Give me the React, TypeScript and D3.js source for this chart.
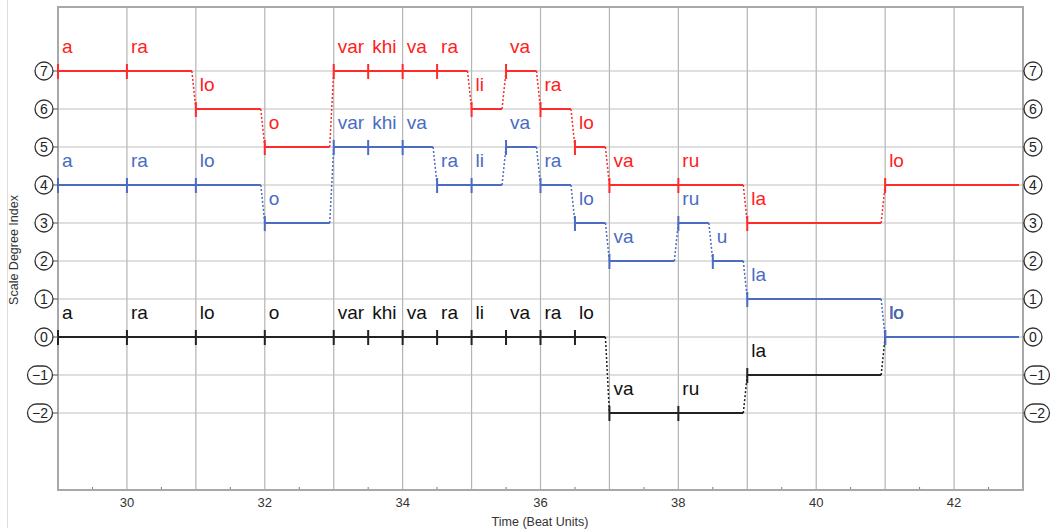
import React from "react";
import * as d3 from "d3";

const redStarts = [29, 30, 31, 32, 33, 33.5, 34, 34.5, 35, 35.5, 36, 36.5, 37, 38, 39, 41];
const redSyllables = ["a", "ra", "lo", "o", "var", "khi", "va", "ra", "li", "va", "ra", "lo", "va", "ru", "la", "lo"];
const redValues = [7, 7, 6, 5, 7, 7, 7, 7, 6, 7, 6, 5, 4, 4, 3, 4];

const blueStarts = [29, 30, 31, 32, 33, 33.5, 34, 34.5, 35, 35.5, 36, 36.5, 37, 38, 38.5, 39, 41];
const blueSyllables = ["a", "ra", "lo", "o", "var", "khi", "va", "ra", "li", "va", "ra", "lo", "va", "ru", "u", "la", "lo"];
const blueValues = [4, 4, 4, 3, 5, 5, 5, 4, 4, 5, 4, 3, 2, 3, 2, 1, 0];

const blackStarts = [29, 30, 31, 32, 33, 33.5, 34, 34.5, 35, 35.5, 36, 36.5, 37, 38, 39, 41];
const blackSyllables = ["a", "ra", "lo", "o", "var", "khi", "va", "ra", "li", "va", "ra", "lo", "va", "ru", "la", "lo"];
const blackValues = [0, 0, 0, 0, 0, 0, 0, 0, 0, 0, 0, 0, -2, -2, -1, 0];

const endTime = 43;
const yTickValues = [7, 6, 5, 4, 3, 2, 1, 0, -1, -2];
const xTickLabels = [30, 32, 34, 36, 38, 40, 42];
const xGrid = d3.range(30, 43, 1);
const xMinor = d3.range(29.5, 43, 1);

const W = 1051;
const H = 531;
const L = 58, R = 1023, T = 7, B = 490;

const x = d3.scaleLinear().domain([29, 43]).range([L, R]);
const y = d3.scaleLinear().domain([-4.026, 8.684]).range([B, T]);

const FONT = "'Liberation Sans', Arial, Helvetica, sans-serif";

type Series = { starts: number[]; syl: string[]; vals: number[]; color: string; textColor: string };

const series: Series[] = [
  { starts: blackStarts, syl: blackSyllables, vals: blackValues, color: "#222222", textColor: "#111111" },
  { starts: blueStarts, syl: blueSyllables, vals: blueValues, color: "#4a6cc2", textColor: "#4a6cc2" },
  { starts: redStarts, syl: redSyllables, vals: redValues, color: "#ff2b2b", textColor: "#ff2020" },
];

function SeriesMarks({ s }: { s: Series }) {
  const gap = 4;
  const items: React.ReactNode[] = [];
  s.starts.forEach((st, i) => {
    const en = i + 1 < s.starts.length ? s.starts[i + 1] : endTime;
    const nextVal = i + 1 < s.vals.length ? s.vals[i + 1] : null;
    const same = nextVal !== null && nextVal === s.vals[i];
    const x0 = x(st);
    const x1 = same ? x(en) : x(en) - gap;
    const yy = y(s.vals[i]);
    items.push(
      <line key={"h" + i} x1={x0} x2={x1} y1={yy} y2={yy} stroke={s.color} strokeWidth={2} />
    );
    if (nextVal !== null && !same) {
      items.push(
        <line key={"d" + i} x1={x1} y1={yy} x2={x(en)} y2={y(nextVal)} stroke={s.color} strokeWidth={1.5} strokeDasharray="2,2" />
      );
    }
    items.push(
      <line key={"t" + i} x1={x0} x2={x0} y1={yy - 7} y2={yy + 8} stroke={s.color} strokeWidth={2} />
    );
    items.push(
      <text key={"l" + i} x={x0 + 4} y={yy - 18} fill={s.textColor} fontSize={19} fontFamily={FONT}>
        {s.syl[i]}
      </text>
    );
  });
  return <g>{items}</g>;
}

function CircleLabel({ cx, cy, v }: { cx: number; cy: number; v: number }) {
  const neg = v < 0;
  const w = neg ? 25 : 18;
  const label = neg ? "\u2212" + Math.abs(v) : String(v);
  return (
    <g>
      <rect x={cx - w / 2} y={cy - 9} width={w} height={18} rx={9} ry={9} fill="white" stroke="#333" strokeWidth={1.3} />
      <text x={cx} y={cy + 5} textAnchor="middle" fontSize={14} fontFamily={FONT} fill="#222">
        {label}
      </text>
    </g>
  );
}

export default function App() {
  return (
    <svg width={W} height={H} style={{ position: "absolute", left: 0, top: 0, background: "white" }}>
      <rect x={0} y={0} width={W} height={H} fill="white" />
      <line x1={7.5} x2={7.5} y1={0} y2={528} stroke="#dddddd" strokeWidth={1} />
      {xGrid.map((g) => (
        <line key={"gx" + g} x1={x(g)} x2={x(g)} y1={T} y2={B} stroke="#b4b4b4" strokeWidth={1.2} />
      ))}
      {yTickValues.map((g) => (
        <line key={"gy" + g} x1={L} x2={R} y1={y(g)} y2={y(g)} stroke="#c0c0c0" strokeWidth={1.2} />
      ))}
      {xMinor.map((g) => (
        <line key={"mx" + g} x1={x(g)} x2={x(g)} y1={B} y2={B - 3} stroke="#777" strokeWidth={1} />
      ))}
      <rect x={L} y={T} width={R - L} height={B - T} fill="none" stroke="#a8a8a8" strokeWidth={2} />
      {series.map((s, i) => (
        <SeriesMarks key={i} s={s} />
      ))}
      {xTickLabels.map((t) => (
        <text key={"xl" + t} x={x(t)} y={507} textAnchor="middle" fontSize={13} fontFamily={FONT} fill="#333">
          {t}
        </text>
      ))}
      {yTickValues.map((v) => {
        const neg = v < 0;
        const lcx = neg ? 40 : 44;
        const rcx = neg ? 1037 : 1033;
        return (
          <g key={"yl" + v}>
            <line x1={lcx + (neg ? 12.5 : 9)} x2={L} y1={y(v)} y2={y(v)} stroke="#555" strokeWidth={1} />
            <line x1={R} x2={rcx - (neg ? 12.5 : 9)} y1={y(v)} y2={y(v)} stroke="#555" strokeWidth={1} />
            <CircleLabel cx={lcx} cy={y(v)} v={v} />
            <CircleLabel cx={rcx} cy={y(v)} v={v} />
          </g>
        );
      })}
      <text x={540} y={526} textAnchor="middle" fontSize={12.5} fontFamily={FONT} fill="#333">
        Time (Beat Units)
      </text>
      <text transform={`translate(18, 250) rotate(-90)`} textAnchor="middle" fontSize={12.5} fontFamily={FONT} fill="#333">
        Scale Degree Index
      </text>
    </svg>
  );
}
